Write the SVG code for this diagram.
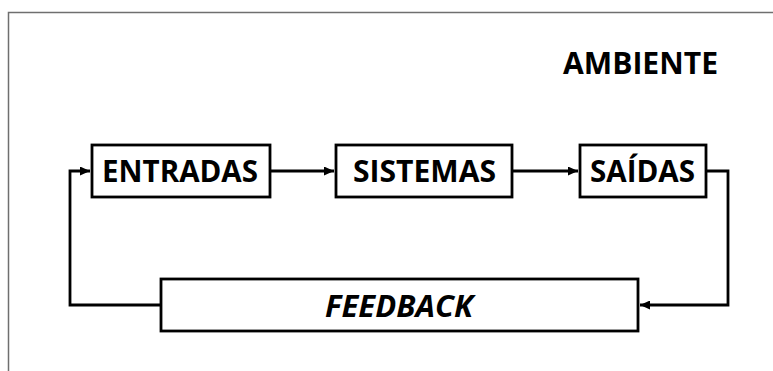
<svg xmlns="http://www.w3.org/2000/svg" width="773" height="371" viewBox="0 0 773 371">
<style>
.box{fill:#fff;stroke:#000;stroke-width:2.8}
.lbl{font-family:"Open Sans","Liberation Sans",sans-serif;font-weight:bold;font-size:29.5px;fill:#000}
.conn{fill:none;stroke:#000;stroke-width:2.8}
</style>
<defs>
<marker id="ah" markerWidth="10" markerHeight="9" refX="10" refY="4.5" orient="auto" markerUnits="userSpaceOnUse">
<path d="M0,0 L10,4.5 L0,9 Z" fill="#000"/>
</marker>
</defs>
<rect width="773" height="371" fill="#fff"/>
<g id="frame">
<path d="M8.5,371 V12.5 H773" fill="none" stroke="#6f6f6f" stroke-width="1.5"/>
</g>
<g id="ambiente">
<text class="lbl" x="563" y="74" font-size="26.5" textLength="155" lengthAdjust="spacingAndGlyphs">AMBIENTE</text>
</g>
<g id="connectors">
<path class="conn" d="M270,171 H334" marker-end="url(#ah)"/>
<path class="conn" d="M512,171 H578" marker-end="url(#ah)"/>
<path class="conn" d="M706,171 H728 V305 H640" marker-end="url(#ah)"/>
<path class="conn" d="M161,305 H70 V171 H90" marker-end="url(#ah)"/>
</g>
<g id="entradas">
<rect class="box" x="92" y="145" width="178" height="52"/>
<text class="lbl" x="102" y="182" textLength="156" lengthAdjust="spacingAndGlyphs">ENTRADAS</text>
</g>
<g id="sistemas">
<rect class="box" x="336" y="145" width="176" height="52"/>
<text class="lbl" x="353" y="182" textLength="143" lengthAdjust="spacingAndGlyphs">SISTEMAS</text>
</g>
<g id="saidas">
<rect class="box" x="580" y="145" width="126" height="52"/>
<text class="lbl" x="590" y="182" textLength="105" lengthAdjust="spacingAndGlyphs">SAÍDAS</text>
</g>
<g id="feedback">
<rect class="box" x="161" y="279" width="477" height="52"/>
<text class="lbl" x="325" y="317" font-style="italic" textLength="148" lengthAdjust="spacingAndGlyphs">FEEDBACK</text>
</g>
</svg>
